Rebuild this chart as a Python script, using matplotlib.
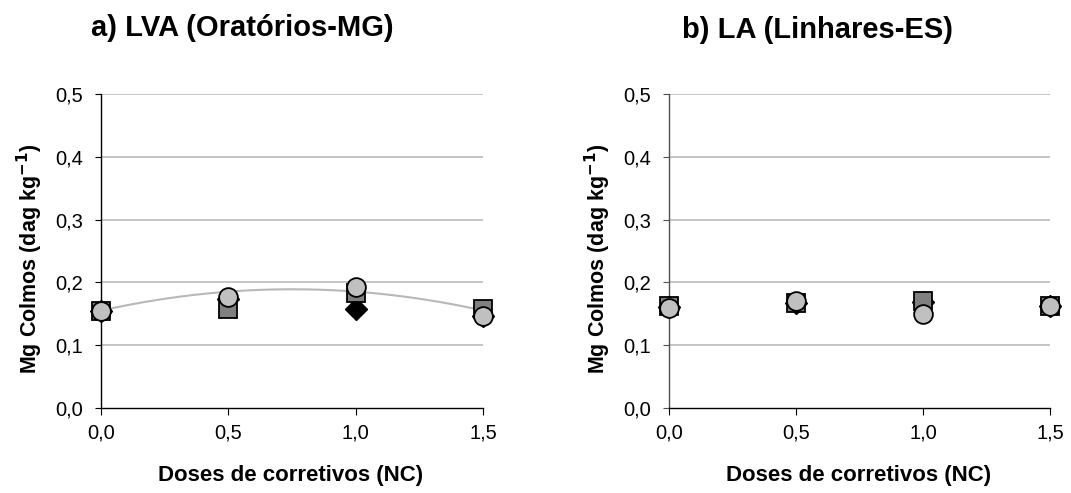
import numpy as np
import matplotlib.pyplot as plt
from matplotlib.ticker import FuncFormatter

plt.rcParams['font.family'] = ['Liberation Sans', 'DejaVu Sans']

doses = [0.0, 0.5, 1.0, 1.5]

# a) LVA (Oratorios-MG)
lva_diamond = [0.154, 0.174, 0.158, 0.147]
lva_square = [0.154, 0.158, 0.183, 0.158]
lva_circle = [0.154, 0.176, 0.192, 0.146]
lva_fit = [0.155, 0.0907, -0.0604]  # quadratic fit coefficients (a, b, c)

# b) LA (Linhares-ES)
la_diamond = [0.161, 0.167, 0.169, 0.162]
la_square = [0.162, 0.167, 0.170, 0.163]
la_circle = [0.160, 0.170, 0.150, 0.162]

yticks = [0.0, 0.1, 0.2, 0.3, 0.4, 0.5]
xticks = [0.0, 0.5, 1.0, 1.5]

comma = FuncFormatter(lambda v, p: f"{v:.1f}".replace('.', ','))

W, H = 1071, 493
fig = plt.figure(figsize=(W / 100, H / 100), dpi=100)
ax1 = fig.add_axes([101 / W, 1 - 408 / H, 382 / W, 314 / H])
ax2 = fig.add_axes([669 / W, 1 - 408 / H, 381 / W, 314 / H])


def style(ax, spine_col):
    ax.set_xlim(0, 1.5)
    ax.set_ylim(0, 0.5)
    ax.set_xticks(xticks)
    ax.set_yticks(yticks)
    ax.xaxis.set_major_formatter(comma)
    ax.yaxis.set_major_formatter(comma)
    for y in yticks[1:]:
        ax.axhline(y, color='#c0c0c0', lw=1.3, zorder=0)
    for s in ['top', 'right']:
        ax.spines[s].set_visible(False)
    ax.spines['bottom'].set_color('black')
    ax.spines['left'].set_color(spine_col)
    ax.spines['bottom'].set_linewidth(1.0)
    ax.spines['left'].set_linewidth(1.0)
    ax.tick_params(axis='y', labelsize=14.5, direction='out', length=4,
                   color=spine_col, pad=9)
    ax.tick_params(axis='x', labelsize=14.5, direction='out', length=5,
                   color='black', pad=6)


def points(ax, d, s, c):
    ax.plot(doses, d, ls='none', marker='D', ms=11.5, mfc='black', mec='black',
            clip_on=False, zorder=3)
    ax.plot(doses, s, ls='none', marker='s', ms=13, mfc='#808080', mec='black',
            mew=1.3, clip_on=False, zorder=4)
    ax.plot(doses, c, ls='none', marker='o', ms=13.5, mfc='#c0c0c0', mec='black',
            mew=1.3, clip_on=False, zorder=5)


style(ax1, 'black')
style(ax2, '#505050')

xs = np.linspace(0, 1.5, 100)
a, b, c = lva_fit
ax1.plot(xs, a + b * xs + c * xs ** 2, color='#b8b8b8', lw=1.5, zorder=2)

points(ax1, lva_diamond, lva_square, lva_circle)
points(ax2, la_diamond, la_square, la_circle)

ylab = 'Mg Colmos (dag kg$^{\\mathbf{-1}}$)'
fig.text(30 / W, 1 - 259 / H, ylab, fontsize=15.5, fontweight='bold',
         rotation=90, ha='center', va='center')
fig.text(598 / W, 1 - 259 / H, ylab, fontsize=15.5, fontweight='bold',
         rotation=90, ha='center', va='center')

fig.text(242 / W, 1 - 28 / H, 'a) LVA (Oratórios-MG)', fontsize=21,
         fontweight='bold', ha='center', va='center')
fig.text(818 / W, 1 - 30 / H, 'b) LA (Linhares-ES)', fontsize=21,
         fontweight='bold', ha='center', va='center')
fig.text(291 / W, 1 - 475 / H, 'Doses de corretivos (NC)', fontsize=16,
         fontweight='bold', ha='center', va='center')
fig.text(859 / W, 1 - 475 / H, 'Doses de corretivos (NC)', fontsize=16,
         fontweight='bold', ha='center', va='center')

fig.savefig('out.png', dpi=100)
